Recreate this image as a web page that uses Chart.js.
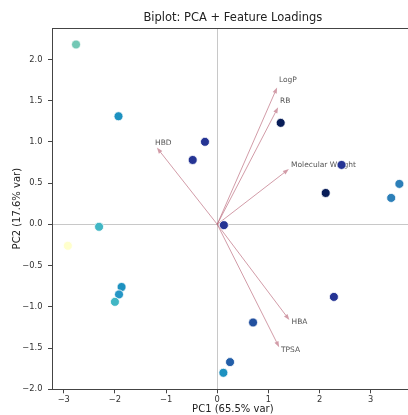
<!DOCTYPE html>
<html>
<head>
<meta charset="utf-8">
<script src="https://cdn.jsdelivr.net/npm/chart.js@4"></script>
<style>
  html, body { margin: 0; padding: 0; width: 408px; height: 415px; overflow: hidden; background: #fff; }
  #wrap { width: 419px; height: 415px; }
</style>
</head>
<body>
<div id="wrap"><canvas id="chart" width="419" height="415"></canvas></div>
<script>
const pc1 = [-2.76, -1.93, -0.24, -0.48, 1.24, 2.43, 2.12, 3.56, 3.40, 0.13, -2.31, -2.92, -1.87, -1.92, -2.00, 2.28, 0.70, 0.25, 0.12];
const pc2 = [2.18, 1.31, 1.00, 0.78, 1.23, 0.72, 0.38, 0.49, 0.32, -0.01, -0.03, -0.26, -0.76, -0.85, -0.94, -0.88, -1.19, -1.67, -1.80];
const pointColors = [
  "#73c8b5", "#1d91c0", "#253494", "#253494", "#081d58", "#253494", "#081d58", "#2c7fb8", "#2c7fb8", "#253494",
  "#41b6c4", "#ffffcc", "#1d91c0", "#2596c6", "#41b6c4", "#253494", "#22509f", "#225ea8", "#1d91c0"
];

const featureNames = ["LogP", "RB", "Molecular Weight", "HBD", "HBA", "TPSA"];
const loadingX = [1.17, 1.19, 1.40, -1.18, 1.41, 1.21];
const loadingY = [1.66, 1.42, 0.67, 0.93, -1.16, -1.49];

const xTicks = [-3, -2, -1, 0, 1, 2, 3];
const yTicks = [-2.0, -1.5, -1.0, -0.5, 0.0, 0.5, 1.0, 1.5, 2.0];

const FONT = "'DejaVu Sans', sans-serif";
const minus = (s) => s.replace("-", "\u2212");

const loadingsPlugin = {
  id: "loadings",
  beforeDatasetsDraw(chart) {
    const { ctx, scales: { x, y } } = chart;
    const x0 = x.getPixelForValue(0);
    const y0 = y.getPixelForValue(0);
    ctx.save();
    featureNames.forEach((name, i) => {
      const tx = x.getPixelForValue(loadingX[i]);
      const ty = y.getPixelForValue(loadingY[i]);
      const ang = Math.atan2(ty - y0, tx - x0);
      const headLen = 6, headW = 2.2;
      const bx = tx - headLen * Math.cos(ang);
      const by = ty - headLen * Math.sin(ang);
      ctx.strokeStyle = "rgba(180, 90, 110, 0.6)";
      ctx.fillStyle = "rgba(180, 90, 110, 0.6)";
      ctx.lineWidth = 1;
      ctx.beginPath();
      ctx.moveTo(x0, y0);
      ctx.lineTo(bx, by);
      ctx.stroke();
      ctx.beginPath();
      ctx.moveTo(tx, ty);
      ctx.lineTo(bx + headW * Math.sin(ang), by - headW * Math.cos(ang));
      ctx.lineTo(bx - headW * Math.sin(ang), by + headW * Math.cos(ang));
      ctx.closePath();
      ctx.fill();
      // label just past the arrow tip
      ctx.fillStyle = "#555";
      ctx.font = "7.5px " + FONT;
      ctx.textAlign = "left";
      ctx.textBaseline = "alphabetic";
      ctx.fillText(name, x.getPixelForValue(loadingX[i] * 1.03), y.getPixelForValue(loadingY[i] * 1.04));
    });
    ctx.restore();
  },
  afterDraw(chart) {
    const { ctx, chartArea: ca } = chart;
    ctx.save();
    ctx.strokeStyle = "#444";
    ctx.lineWidth = 1;
    ctx.beginPath();
    ctx.moveTo(ca.left, Math.round(ca.top) + 0.5);
    ctx.lineTo(ca.right, Math.round(ca.top) + 0.5);
    ctx.stroke();
    ctx.fillStyle = "#222";
    ctx.font = "11.5px " + FONT;
    ctx.textAlign = "center";
    ctx.textBaseline = "middle";
    ctx.fillText("Biplot: PCA + Feature Loadings", (ca.left + ca.right) / 2, 18);
    ctx.restore();
  }
};

function zeroLine(c) {
  return c.tick && c.tick.value === 0 ? "#c8c8c8" : "rgba(0,0,0,0)";
}

new Chart(document.getElementById("chart"), {
  type: "scatter",
  data: {
    datasets: [{
      data: pc1.map((v, i) => ({ x: v, y: pc2[i] })),
      backgroundColor: pointColors,
      borderColor: "#ffffff",
      borderWidth: 0.8,
      pointRadius: 4.5,
      pointHoverRadius: 4.5,
    }],
  },
  options: {
    responsive: false,
    devicePixelRatio: 1,
    animation: false,
    layout: { padding: { top: 28, left: 0, right: 2, bottom: 0 } },
    plugins: { legend: { display: false }, tooltip: { enabled: false }, title: { display: false } },
    scales: {
      x: {
        type: "linear",
        min: -3.23,
        max: 3.84,
        afterBuildTicks: (scale) => { scale.ticks = xTicks.map((v) => ({ value: v })); },
        afterFit: (scale) => {
          scale.height = 25.7;
          scale.paddingLeft = 0;
          scale.paddingRight = 0;
        },
        grid: { drawOnChartArea: true, color: zeroLine, tickColor: "#444", tickLength: 4 },
        border: { display: true, color: "#444", width: 1 },
        ticks: {
          color: "#333",
          padding: 2,
          font: { family: FONT, size: 8.3 },
          callback: (v) => minus(String(v)),
        },
        title: {
          display: true,
          text: "PC1 (65.5% var)",
          color: "#222",
          font: { family: FONT, size: 10 },
          padding: { top: 0, bottom: -0.5 },
        },
      },
      y: {
        type: "linear",
        min: -2.0,
        max: 2.38,
        afterBuildTicks: (scale) => { scale.ticks = yTicks.map((v) => ({ value: v })); },
        afterFit: (scale) => {
          scale.width = 52;
          scale.paddingTop = 0;
          scale.paddingBottom = 0;
        },
        grid: { drawOnChartArea: true, color: zeroLine, tickColor: "#444", tickLength: 4 },
        border: { display: true, color: "#444", width: 1 },
        ticks: {
          color: "#333",
          padding: 5.5,
          font: { family: FONT, size: 8.3 },
          callback: (v) => minus(Number(v).toFixed(1)),
        },
        title: {
          display: true,
          text: "PC2 (17.6% var)",
          color: "#222",
          font: { family: FONT, size: 10 },
          padding: { top: 11, bottom: 0 },
        },
      },
    },
  },
  plugins: [loadingsPlugin],
});
</script>
</body>
</html>
